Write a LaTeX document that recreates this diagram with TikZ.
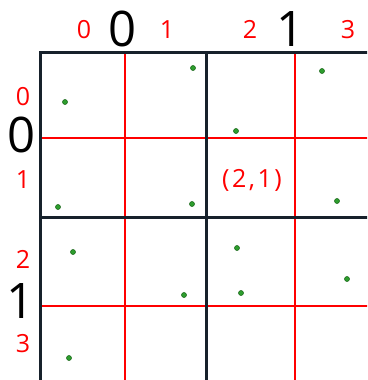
\documentclass[tikz,border=0pt]{standalone}
\usepackage{fontspec}
\setmainfont{Open Sans}
\definecolor{gridblack}{HTML}{17212B}
\definecolor{dotgreen}{HTML}{2E9E2E}
\definecolor{dotedge}{HTML}{1E6B1E}
\begin{document}
\begin{tikzpicture}[x=1pt,y=-1pt,
  redline/.style={draw=red, line width=2pt},
  blackline/.style={draw=gridblack, line width=3pt},
  redlabel/.style={text=red, anchor=base, inner sep=0pt, font=\fontsize{25}{25}\selectfont},
  biglabel/.style={text=black, anchor=base, inner sep=0pt, font=\fontsize{49}{49}\selectfont},
  pt/.style={circle, fill=dotgreen, draw=dotedge, line width=0.6pt, minimum size=5pt, inner sep=0pt}]
\useasboundingbox (0,0) rectangle (367,380);
\clip (0,0) rectangle (367,380);
% red sub-grid
\draw[redline] (125,52) -- (125,390);
\draw[redline] (295,52) -- (295,390);
\draw[redline] (40,138) -- (380,138);
\draw[redline] (40,306) -- (380,306);
% black main grid
\draw[blackline] (40,390) -- (40,52) -- (380,52);
\draw[blackline] (206,52) -- (206,390);
\draw[blackline] (40,217) -- (380,217);
% top labels
\node[redlabel] (t0) at (84,38) {0};
\node[biglabel] (T0) at (123,46) {0};
\node[redlabel] (t1) at (167,38) {1};
\node[redlabel] (t2) at (250,38) {2};
\node[biglabel] (T1) at (291,46) {1};
\node[redlabel] (t3) at (348,38) {3};
% left labels
\node[redlabel] (l0) at (23,105) {0};
\node[biglabel] (L0) at (22,152) {0};
\node[redlabel] (l1) at (23,188) {1};
\node[redlabel] (l2) at (23,268) {2};
\node[biglabel] (L1) at (21,318) {1};
\node[redlabel] (l3) at (23,352) {3};
% cell label
\node[redlabel] (cell) at (252,187) {(\kern2.5pt2\kern2.5pt,\kern2.5pt1\kern2.5pt)};
% points
\node[pt] (p1) at (193,68) {};
\node[pt] (p2) at (322,71) {};
\node[pt] (p3) at (236,131) {};
\node[pt] (p4) at (65,102) {};
\node[pt] (p5) at (58,207) {};
\node[pt] (p6) at (192,204) {};
\node[pt] (p7) at (337,201) {};
\node[pt] (p8) at (73,252) {};
\node[pt] (p9) at (237,248) {};
\node[pt] (p10) at (347,279) {};
\node[pt] (p11) at (184,295) {};
\node[pt] (p12) at (241,293) {};
\node[pt] (p13) at (69,358) {};
\end{tikzpicture}
\end{document}
